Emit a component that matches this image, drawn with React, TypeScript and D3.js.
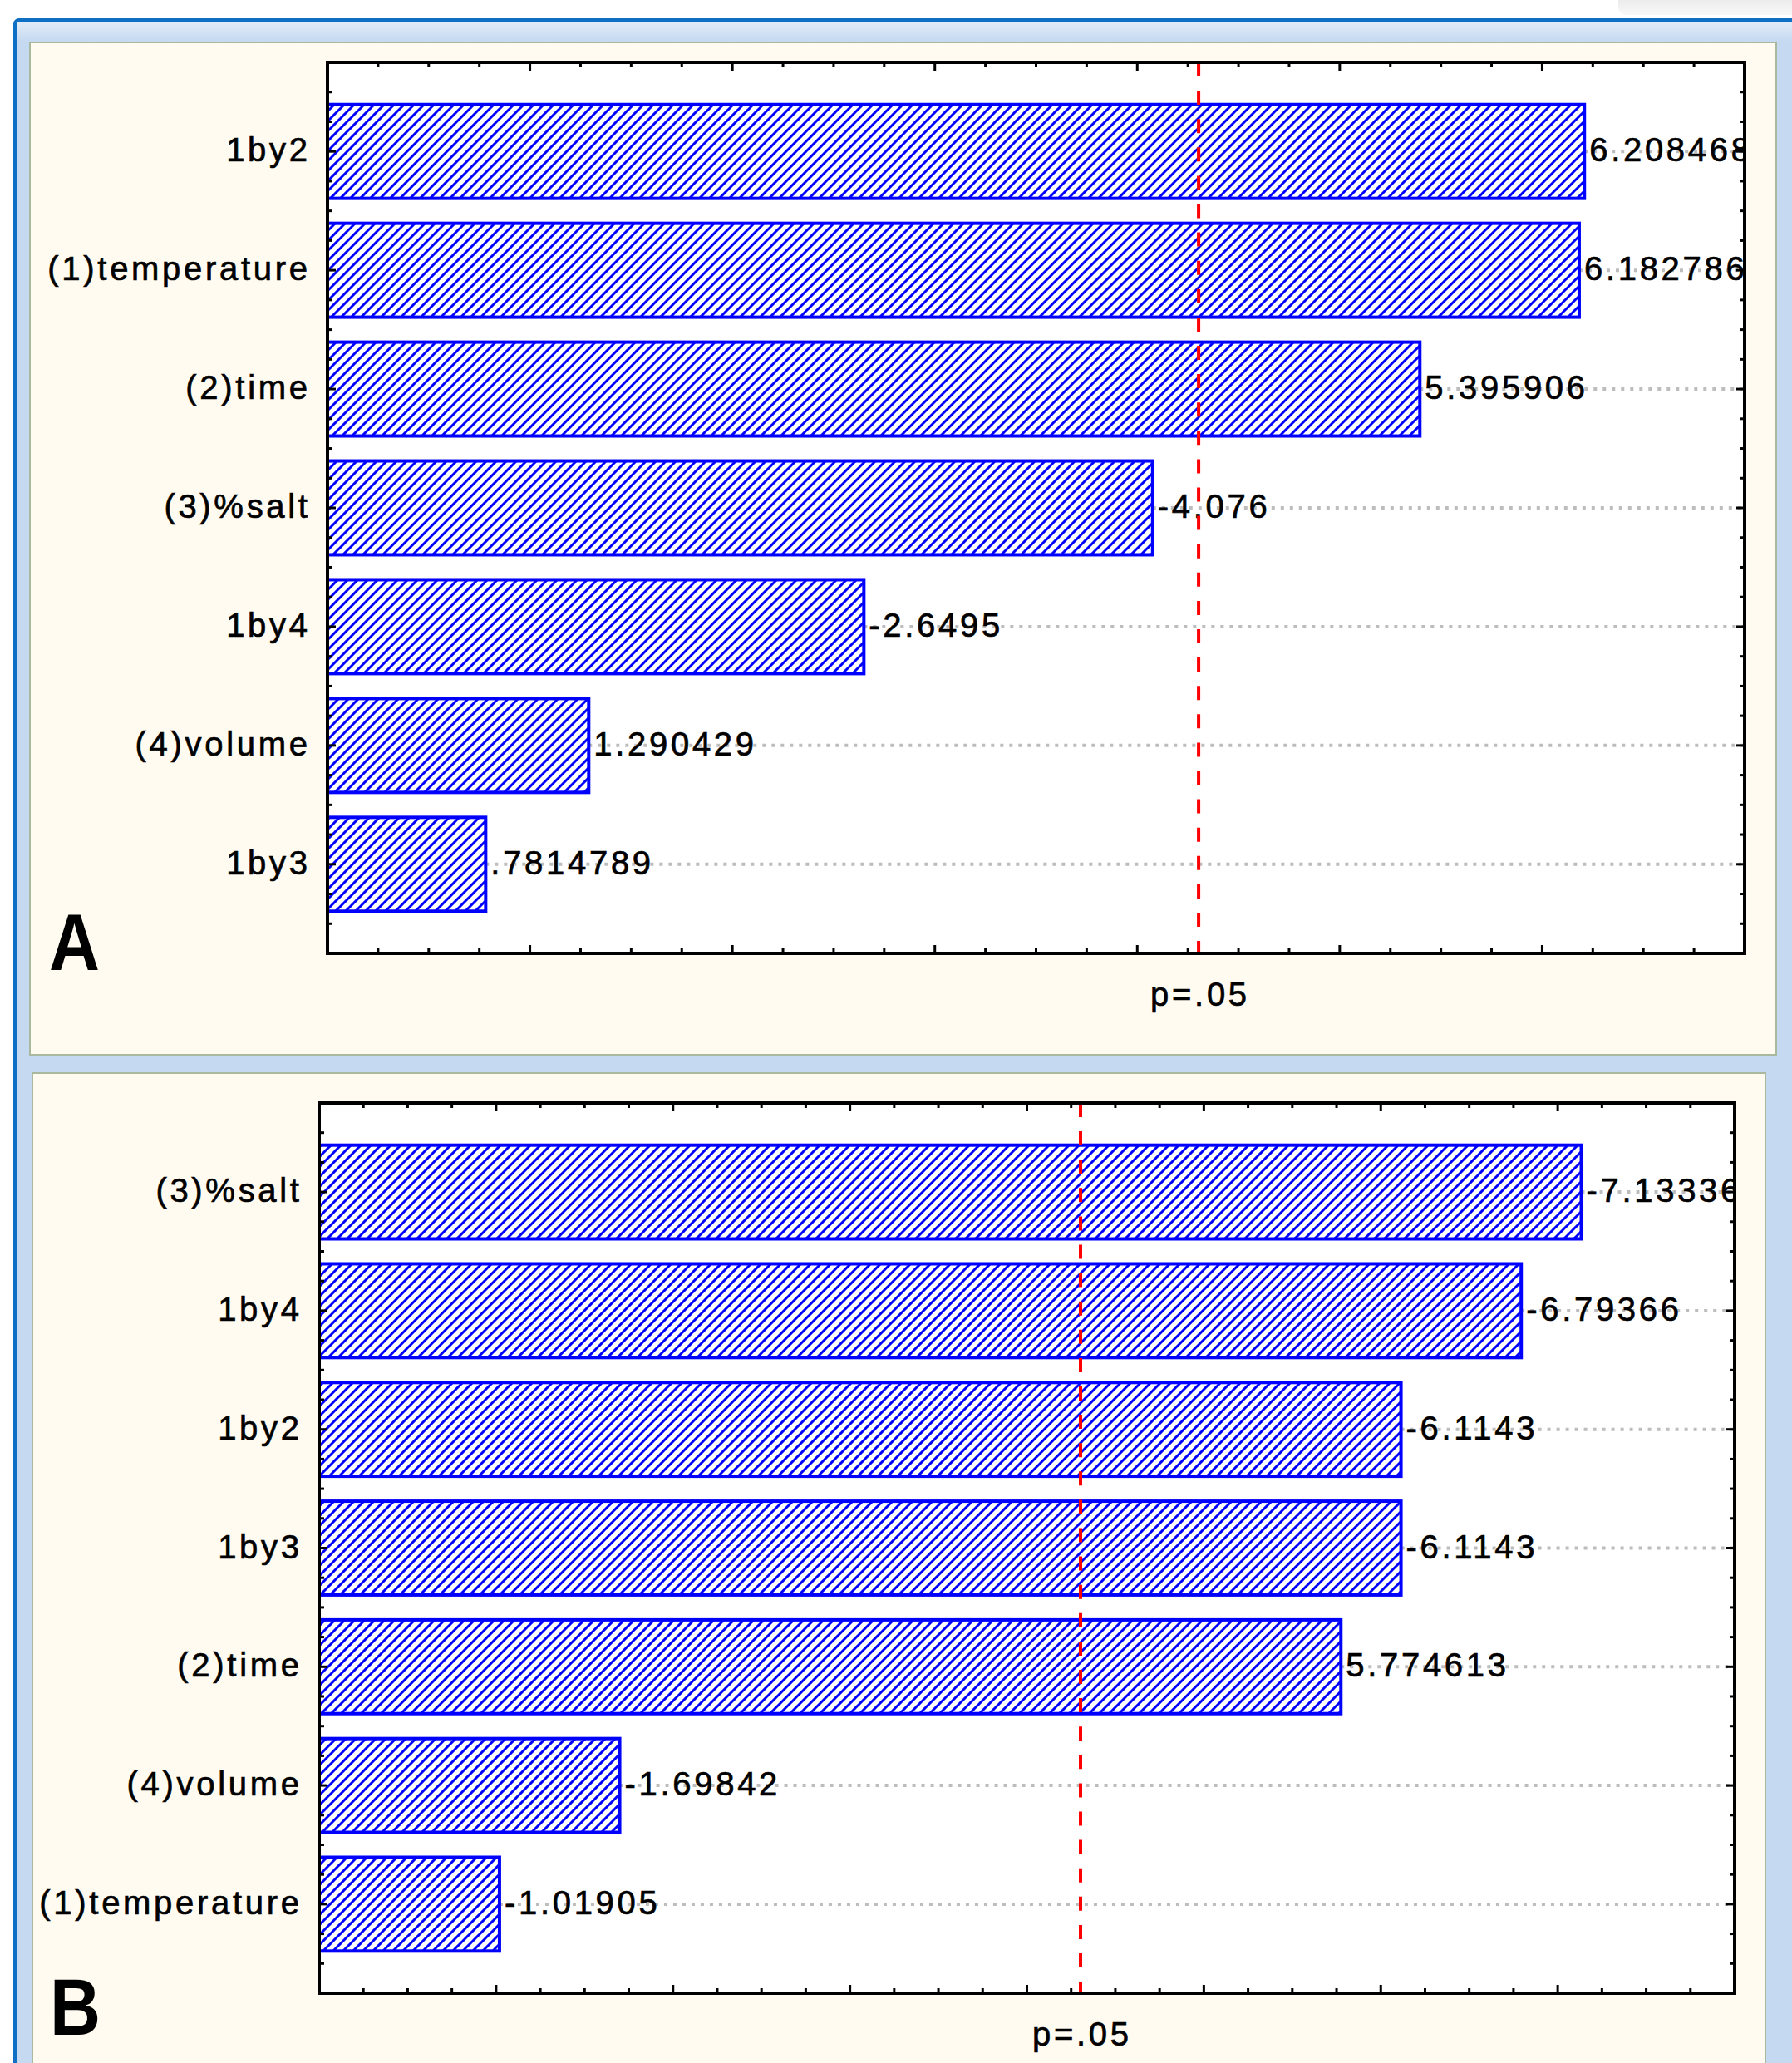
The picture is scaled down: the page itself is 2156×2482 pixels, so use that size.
import React from 'react';
import * as d3 from 'd3';

const W = 2156;
const H = 2482;

// Panel A data
const catsA = ['1by2', '(1)temperature', '(2)time', '(3)%salt', '1by4', '(4)volume', '1by3'];
const valsA = [6.208468, 6.182786, 5.395906, -4.076, -2.6495, 1.290429, 0.7814789];
const maxA = 7;

// Panel B data
const catsB = ['(3)%salt', '1by4', '1by2', '1by3', '(2)time', '(4)volume', '(1)temperature'];
const valsB = [-7.13336, -6.79366, -6.1143, -6.1143, 5.774613, -1.69842, -1.01905];
const maxB = 8;

const pCrit = 4.303;
const pLabel = 'p=.05';

const FONT = '"Liberation Sans", Arial, sans-serif';
const LS = 3.7;

function fmt(v: number): string {
  return String(v).replace(/^(-?)0\./, '$1.');
}

type PProps = {
  id: string;
  left: number;
  right: number;
  top: number;
  bottom: number;
  cats: string[];
  vals: number[];
  max: number;
  letter: string;
  letterX: number;
  letterY: number;
};

const textStyle = { letterSpacing: `${LS}px` };

function Pareto({ id, left, right, top, bottom, cats, vals, max, letter, letterX, letterY }: PProps) {
  const x = d3.scaleLinear().domain([0, max]).range([left, right]);
  const y = d3.scaleLinear().domain([0.25, cats.length + 0.75]).range([top, bottom]);
  const band = y(2) - y(1);
  const bh = band * 0.79;
  const xTicks = d3.range(0.25, max - 0.001, 0.25);
  const yTicks = d3.range(0.5, cats.length + 0.5001, 0.25);
  const isMajor = (t: number) => Math.abs(t - Math.round(t)) < 1e-6;
  const clipId = `clip-${id}`;
  return (
    <g>
      <defs>
        <clipPath id={clipId}>
          <rect x={left} y={top} width={right - left} height={bottom - top} />
        </clipPath>
      </defs>
      <rect x={left} y={top} width={right - left} height={bottom - top} fill="#ffffff" />
      <g clipPath={`url(#${clipId})`}>
        {vals.map((v, i) => (
          <line
            key={`dl${i}`}
            x1={x(Math.abs(v))}
            x2={right}
            y1={y(i + 1)}
            y2={y(i + 1)}
            stroke="#bdbdbd"
            strokeWidth={4}
            strokeDasharray="4 7"
          />
        ))}
        {vals.map((v, i) => (
          <rect
            key={`b${i}`}
            x={left}
            y={y(i + 1) - bh / 2}
            width={x(Math.abs(v)) - left}
            height={bh}
            fill="url(#hatch)"
            stroke="#0000ff"
            strokeWidth={4}
          />
        ))}
        {vals.map((v, i) => (
          <text
            key={`vl${i}`}
            x={x(Math.abs(v)) + 6}
            y={y(i + 1) + 12}
            fontFamily={FONT}
            fontSize={40}
            fill="#000"
            stroke="#000"
            strokeWidth={0.7}
            style={textStyle}
          >
            {fmt(v)}
          </text>
        ))}
        <line
          x1={x(pCrit)}
          x2={x(pCrit)}
          y1={top}
          y2={bottom}
          stroke="#ff0000"
          strokeWidth={4}
          strokeDasharray="17 17.1"
        />
      </g>
      {xTicks.map((t, i) => {
        const L = isMajor(t) ? 10 : 6;
        return (
          <g key={`xt${i}`}>
            <line x1={x(t)} x2={x(t)} y1={bottom} y2={bottom - L} stroke="#000" strokeWidth={3} />
            <line x1={x(t)} x2={x(t)} y1={top} y2={top + L} stroke="#000" strokeWidth={3} />
          </g>
        );
      })}
      {yTicks.map((t, i) => {
        const L = isMajor(t) ? 10 : 6;
        return (
          <g key={`yt${i}`}>
            <line x1={left} x2={left + L} y1={y(t)} y2={y(t)} stroke="#000" strokeWidth={3} />
            <line x1={right} x2={right - L} y1={y(t)} y2={y(t)} stroke="#000" strokeWidth={3} />
          </g>
        );
      })}
      <rect
        x={left}
        y={top}
        width={right - left}
        height={bottom - top}
        fill="none"
        stroke="#000"
        strokeWidth={4}
      />
      {cats.map((c, i) => (
        <text
          key={`cl${i}`}
          x={left - 24 + LS}
          y={y(i + 1) + 12}
          textAnchor="end"
          fontFamily={FONT}
          fontSize={40}
          fill="#000"
          stroke="#000"
          strokeWidth={0.7}
          style={textStyle}
        >
          {c}
        </text>
      ))}
      <text
        x={x(pCrit) + LS / 2}
        y={bottom + 63}
        textAnchor="middle"
        fontFamily={FONT}
        fontSize={40}
        fill="#000"
        stroke="#000"
        strokeWidth={0.7}
        style={textStyle}
      >
        {pLabel}
      </text>
      <text
        transform={`translate(${letterX},${letterY}) scale(0.88,1)`}
        fontFamily={FONT}
        fontWeight="bold"
        fontSize={96}
        fill="#000"
      >
        {letter}
      </text>
    </g>
  );
}

export default function App() {
  return (
    <svg
      width={W}
      height={H}
      viewBox={`0 0 ${W} ${H}`}
      style={{ position: 'absolute', left: 0, top: 0, display: 'block' }}
    >
      <defs>
        <pattern id="hatch" patternUnits="userSpaceOnUse" width={12} height={12}>
          <rect width={12} height={12} fill="#ffffff" />
          <path d="M-3,3 L3,-3 M0,12 L12,0 M9,15 L15,9" stroke="#0000ff" strokeWidth={3} />
        </pattern>
        <linearGradient id="topGrad" x1="0" y1="0" x2="0" y2="1">
          <stop offset="0" stopColor="#e2ebf7" />
          <stop offset="1" stopColor="#c5d9f1" />
        </linearGradient>
        <linearGradient id="tabGrad" x1="0" y1="0" x2="0" y2="1">
          <stop offset="0" stopColor="#e4e4e4" />
          <stop offset="1" stopColor="#f8f8f8" />
        </linearGradient>
      </defs>
      <rect x={0} y={0} width={W} height={H} fill="#ffffff" />
      <rect x={1947} y={-12} width={260} height={30} rx={10} fill="url(#tabGrad)" />
      <rect x={18.5} y={24.5} width={2300} height={2600} rx={4} fill="#c5d9f1" stroke="#0e6fc4" strokeWidth={5} />
      <rect x={21} y={27} width={2200} height={23} fill="url(#topGrad)" />
      <rect x={36} y={51} width={2101} height={1218} fill="#fffbf0" stroke="#a9b99d" strokeWidth={2} />
      <rect x={39} y={1291} width={2085} height={1300} fill="#fffbf0" stroke="#a9b99d" strokeWidth={2} />
      <Pareto
        id="A"
        left={394}
        right={2099}
        top={75}
        bottom={1147}
        cats={catsA}
        vals={valsA}
        max={maxA}
        letter="A"
        letterX={59}
        letterY={1167}
      />
      <Pareto
        id="B"
        left={384}
        right={2087}
        top={1327}
        bottom={2398}
        cats={catsB}
        vals={valsB}
        max={maxB}
        letter="B"
        letterX={60}
        letterY={2448}
      />
    </svg>
  );
}
